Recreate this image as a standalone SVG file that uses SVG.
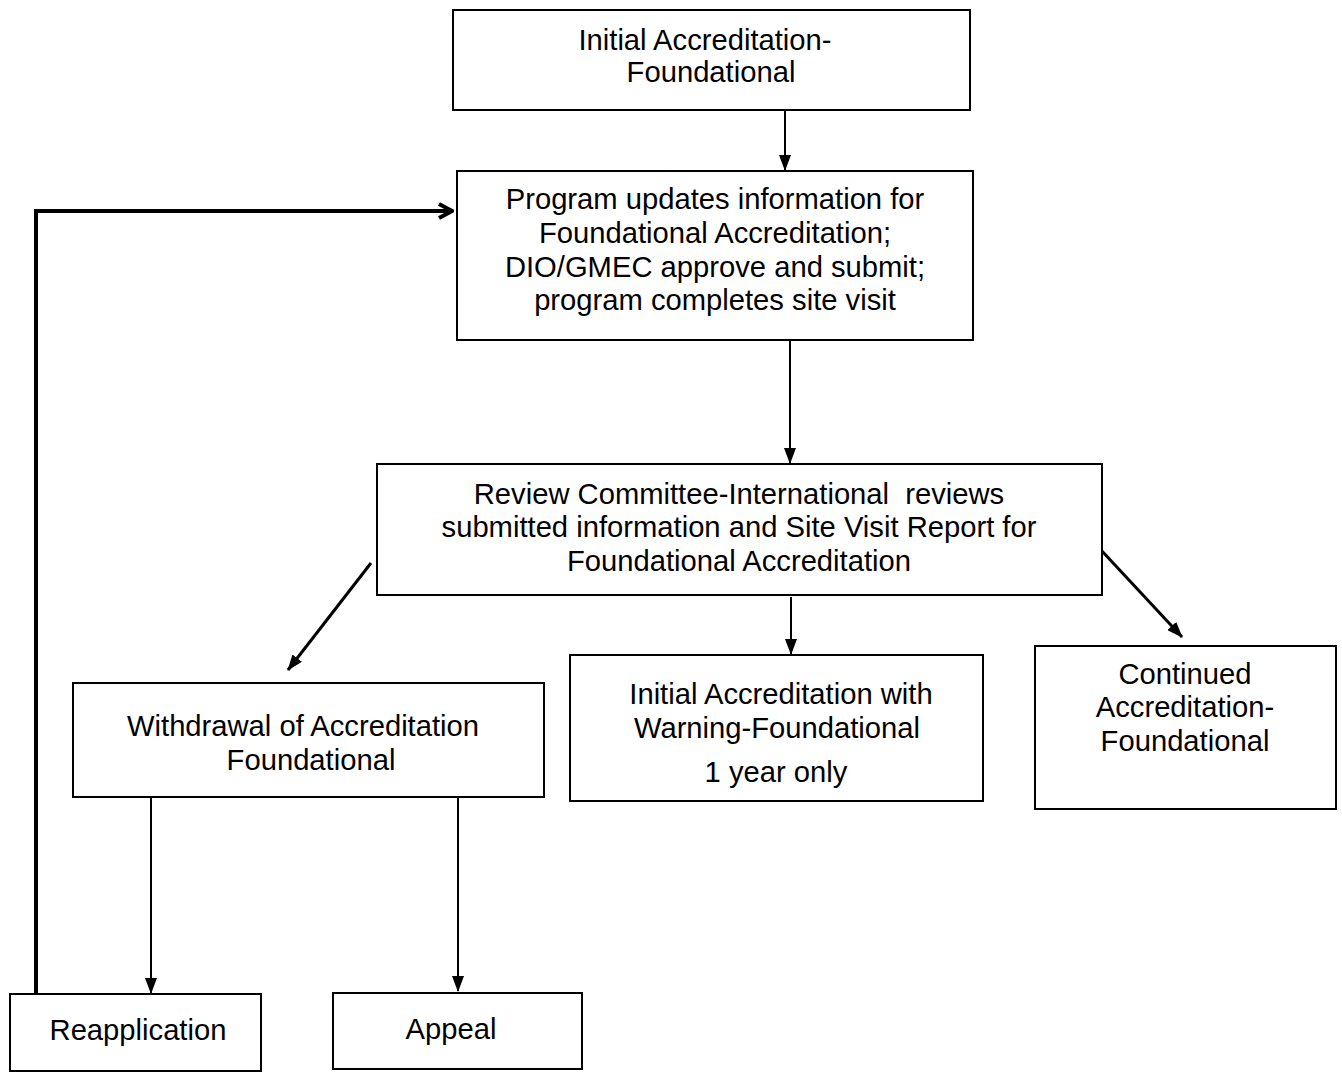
<svg xmlns="http://www.w3.org/2000/svg" width="1342" height="1072" viewBox="0 0 1342 1072">
<style>
.box{fill:#fff;stroke:#000;stroke-width:2}
.t{font-family:"Liberation Sans",Arial,sans-serif;font-size:29.2px;fill:#000;text-anchor:middle;white-space:pre}
.c{stroke:#000;stroke-width:2;fill:none}
.d{stroke:#000;stroke-width:3;fill:none}
.f{stroke:#000;stroke-width:4;fill:none}
</style>
<defs>
<marker id="ah" viewBox="0 0 16 12" refX="15" refY="6" markerWidth="16" markerHeight="12" markerUnits="userSpaceOnUse" orient="auto">
<path d="M0,0 L16,6 L0,12 Z" fill="#000"/>
</marker>
<marker id="ah2" viewBox="0 0 16 18" refX="15" refY="9" markerWidth="16" markerHeight="18" markerUnits="userSpaceOnUse" orient="auto">
<path d="M1,2 L14,9 L1,16" fill="none" stroke="#000" stroke-width="4"/>
</marker>
</defs>
<rect width="1342" height="1072" fill="#fff"/>
<g id="connectors">
<line class="c" x1="785" y1="110" x2="785" y2="170" marker-end="url(#ah)"/>
<line class="c" x1="790" y1="340" x2="790" y2="463" marker-end="url(#ah)"/>
<line class="c" x1="791" y1="597" x2="791" y2="654" marker-end="url(#ah)"/>
<line class="d" x1="371" y1="563" x2="288" y2="670" marker-end="url(#ah)"/>
<line class="d" x1="1101" y1="550" x2="1182" y2="637" marker-end="url(#ah)"/>
<line class="c" x1="151" y1="797" x2="151" y2="993" marker-end="url(#ah)"/>
<line class="c" x1="458" y1="797" x2="458" y2="991" marker-end="url(#ah)"/>
<path class="f" d="M36,994 L36,211 L453,211" marker-end="url(#ah2)"/>
</g>
<g id="n1">
<rect class="box" x="453" y="10" width="517" height="100"/>
<text class="t" x="705" y="50">Initial Accreditation-</text>
<text class="t" x="711" y="82">Foundational</text>
</g>
<g id="n2">
<rect class="box" x="457" y="171" width="516" height="169"/>
<text class="t" x="715" y="209">Program updates information for</text>
<text class="t" x="715" y="243">Foundational Accreditation;</text>
<text class="t" x="715" y="277">DIO/GMEC approve and submit;</text>
<text class="t" x="715" y="310">program completes site visit</text>
</g>
<g id="n3">
<rect class="box" x="377" y="464" width="725" height="131"/>
<text class="t" x="739" y="504">Review Committee-International  reviews</text>
<text class="t" x="739" y="537">submitted information and Site Visit Report for</text>
<text class="t" x="739" y="571">Foundational Accreditation</text>
</g>
<g id="n4">
<rect class="box" x="73" y="683" width="471" height="114"/>
<text class="t" x="303" y="736">Withdrawal of Accreditation</text>
<text class="t" x="311" y="770">Foundational</text>
</g>
<g id="n5">
<rect class="box" x="570" y="655" width="413" height="146"/>
<text class="t" x="781" y="704">Initial Accreditation with</text>
<text class="t" x="777" y="738">Warning-Foundational</text>
<text class="t" x="776" y="782">1 year only</text>
</g>
<g id="n6">
<rect class="box" x="1035" y="646" width="301" height="163"/>
<text class="t" x="1185" y="684">Continued</text>
<text class="t" x="1185" y="717">Accreditation-</text>
<text class="t" x="1185" y="751">Foundational</text>
</g>
<g id="n7">
<rect class="box" x="10" y="994" width="251" height="77"/>
<text class="t" x="138" y="1040">Reapplication</text>
</g>
<g id="n8">
<rect class="box" x="333" y="993" width="249" height="76"/>
<text class="t" x="451" y="1039">Appeal</text>
</g>
</svg>
